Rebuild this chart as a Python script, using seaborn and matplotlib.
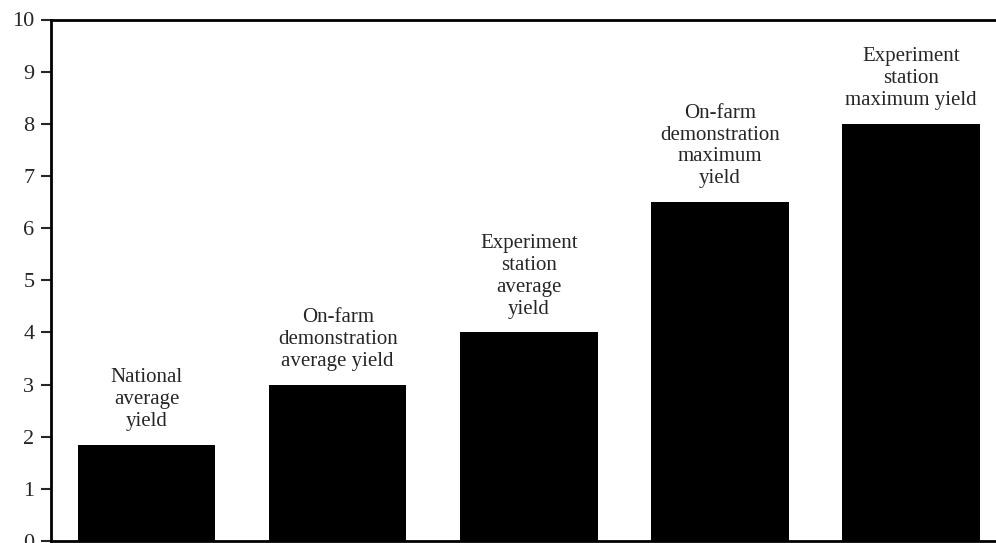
import matplotlib
matplotlib.use("Agg")
import matplotlib.pyplot as plt
import seaborn as sns
import pandas as pd

categories = [
    "National\naverage\nyield",
    "On-farm\ndemonstration\naverage yield",
    "Experiment\nstation\naverage\nyield",
    "On-farm\ndemonstration\nmaximum\nyield",
    "Experiment\nstation\nmaximum yield",
]
yields = [1.85, 3.0, 4.0, 6.5, 8.0]
y_ticks = list(range(0, 11))

sns.set_style("white")
plt.rcParams["font.family"] = ["Liberation Serif", "DejaVu Serif"]

df = pd.DataFrame({"category": categories, "yield": yields})

fig = plt.figure(figsize=(9.96, 5.43), dpi=100)
ax = fig.add_axes([51 / 996, 2 / 543, 1 - 51 / 996, (541 - 19.5) / 543])

sns.barplot(data=df, x="category", y="yield", color="black", width=0.72,
            saturation=1, edgecolor="black", linewidth=0, ax=ax)

# label above each bar
for i, (label, val) in enumerate(zip(categories, yields)):
    ax.annotate(label, xy=(i, val), xytext=(0, 10), textcoords="offset points",
                ha="center", va="bottom", fontsize=15, linespacing=1.2)

ax.set_xlim(-0.5, 4.445)
ax.set_ylim(0, 10)
ax.set_yticks(y_ticks)
ax.set_xticks([])
ax.set_xlabel("")
ax.set_ylabel("")
ax.tick_params(axis="y", direction="out", length=7, width=1.5, pad=5,
               labelsize=16, left=True)
for side in ["left", "top", "bottom"]:
    ax.spines[side].set_visible(True)
    ax.spines[side].set_linewidth(2)
    ax.spines[side].set_color("black")
ax.spines["right"].set_visible(False)

fig.savefig("out.png", dpi=100)
